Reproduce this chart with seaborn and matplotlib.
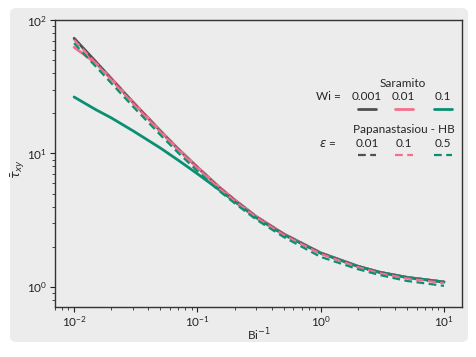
import numpy as np
import pandas as pd
import seaborn as sns
import matplotlib.pyplot as plt
from matplotlib.patches import FancyBboxPatch

# inverse Bingham number
bi_inv = [0.01, 0.015, 0.02, 0.03, 0.05, 0.07, 0.1, 0.15, 0.2, 0.3, 0.5, 1, 2, 3, 5, 10]

# Saramito model, Wi = 0.001 / 0.01 / 0.1
sar_wi_0001 = [73, 48.7, 36.5, 24.3, 14.8, 10.8, 7.9, 5.6, 4.5, 3.37, 2.5, 1.80, 1.43, 1.29, 1.18, 1.09]
sar_wi_001 = [62.5, 47.5, 36.3, 24.2, 14.8, 10.8, 7.9, 5.6, 4.5, 3.37, 2.5, 1.80, 1.43, 1.29, 1.18, 1.09]
sar_wi_01 = [26.5, 21.3, 18.5, 14.8, 11.0, 8.9, 7.05, 5.35, 4.38, 3.3, 2.47, 1.79, 1.43, 1.29, 1.18, 1.09]

# Papanastasiou - HB, eps = 0.01 / 0.1 / 0.5
pap_eps_001 = [72.5, 48.3, 36.2, 24.1, 14.7, 10.7, 7.85, 5.57, 4.47, 3.35, 2.49, 1.79, 1.42, 1.28, 1.17, 1.08]
pap_eps_01 = [71, 47.4, 35.6, 23.7, 14.5, 10.6, 7.75, 5.5, 4.42, 3.32, 2.46, 1.77, 1.41, 1.27, 1.16, 1.07]
pap_eps_05 = [67, 44.8, 33.7, 22.5, 13.8, 10.1, 7.4, 5.25, 4.25, 3.2, 2.37, 1.68, 1.36, 1.23, 1.11, 1.02]

wi_labels = ["0.001", "0.01", "0.1"]
eps_labels = ["0.01", "0.1", "0.5"]
colors = ["#4f4f55", "#f2708d", "#0b8f72"]

bg = "#ececec"
sns.set_theme(style="ticks")
plt.rcParams['font.family'] = ['Lato', 'DejaVu Sans']
plt.rcParams['mathtext.fontset'] = 'dejavusans'

fig = plt.figure(figsize=(4.76, 3.57), dpi=100, facecolor="white")
fig.patches.append(FancyBboxPatch((10 / 476, 15 / 357), 458 / 476, 334 / 357,
                                  boxstyle="round,pad=0,rounding_size=0.015",
                                  transform=fig.transFigure, facecolor=bg,
                                  edgecolor="none", zorder=-10))
ax = fig.add_axes([55 / 476, 50 / 357, 407 / 476, 287 / 357])
ax.set_facecolor(bg)

solid = [sar_wi_0001, sar_wi_001, sar_wi_01]
dashed = [pap_eps_001, pap_eps_01, pap_eps_05]
for vals, c in zip(solid, colors):
    sns.lineplot(x=bi_inv, y=vals, color=c, linewidth=2, ax=ax)
for vals, c in zip(dashed, colors):
    sns.lineplot(x=bi_inv, y=vals, color=c, linewidth=1.6, linestyle=(0, (3.5, 2)), ax=ax)

ax.set_xscale("log")
ax.set_yscale("log")
ax.set_xlim(0.0070, 14)
ax.set_ylim(0.708, 100)
ax.set_xlabel("Bi$^{-1}$", fontsize=8.5)
ax.set_ylabel(r"$\bar{\tau}_{xy}$", fontsize=9)
ax.xaxis.set_label_coords(0.5, -0.068)
ax.yaxis.set_label_coords(-0.07, 0.48)
ax.tick_params(labelsize=8.5, colors="#222222", length=3.5, width=0.8, pad=2)
ax.tick_params(which="minor", length=2, width=0.6)
for s in ax.spines.values():
    s.set_color("#333333")
    s.set_linewidth(1.0)

# custom table legend
fs = 8.5
col_x = [0.767, 0.857, 0.953]
ax.text(0.855, 0.780, "Saramito", transform=ax.transAxes, ha="center", va="center", fontsize=fs)
ax.text(0.671, 0.732, "Wi =", transform=ax.transAxes, ha="center", va="center", fontsize=fs)
ax.text(0.857, 0.620, "Papanastasiou - HB", transform=ax.transAxes, ha="center", va="center", fontsize=fs)
ax.text(0.671, 0.571, r"$\varepsilon$ =", transform=ax.transAxes, ha="center", va="center", fontsize=fs)
for i in range(3):
    ax.text(col_x[i], 0.732, wi_labels[i], transform=ax.transAxes, ha="center", va="center", fontsize=fs)
    ax.plot([col_x[i] - 0.022, col_x[i] + 0.022], [0.690, 0.690], transform=ax.transAxes,
            color=colors[i], linewidth=2)
    ax.text(col_x[i], 0.571, eps_labels[i], transform=ax.transAxes, ha="center", va="center", fontsize=fs)
    ax.plot([col_x[i] - 0.022, col_x[i] + 0.022], [0.530, 0.530], transform=ax.transAxes,
            color=colors[i], linewidth=1.6, linestyle=(0, (3.5, 2)))

fig.savefig("out.png", dpi=100, facecolor="white")
